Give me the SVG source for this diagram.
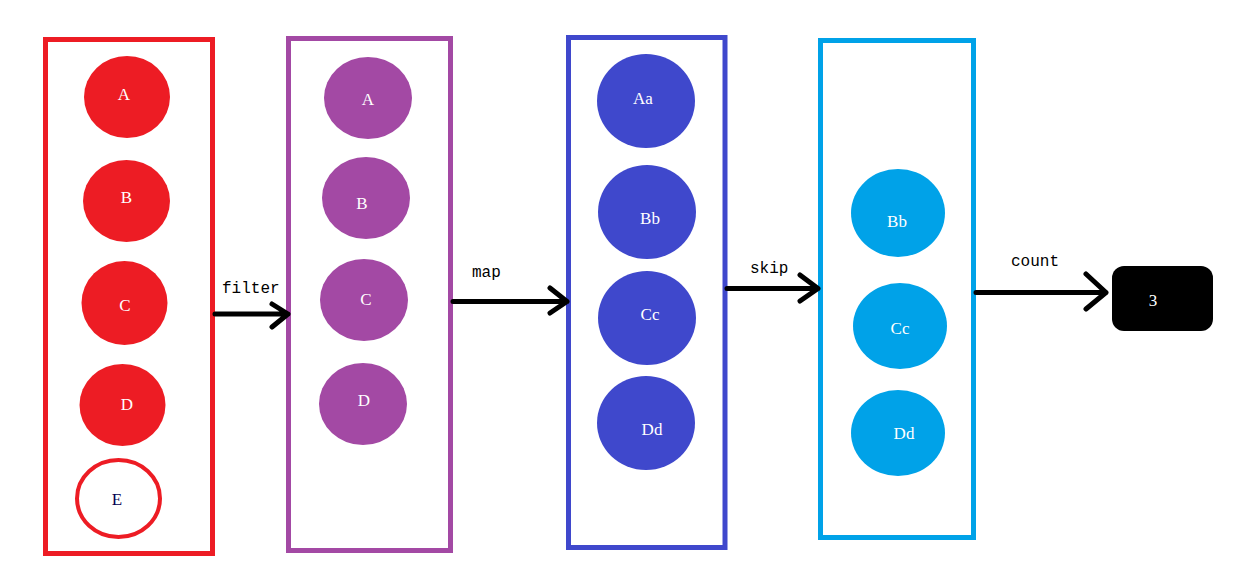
<svg xmlns="http://www.w3.org/2000/svg" width="1259" height="572" viewBox="0 0 1259 572">
<style>
.box{fill:none;stroke-width:5}
.lbl{font-family:"Liberation Serif",serif;font-size:17px;fill:#fff;text-anchor:middle}
.op{font-family:"Liberation Mono",monospace;font-size:16px;fill:#000}
.arr{fill:none;stroke:#000;stroke-width:5;stroke-linecap:round;stroke-linejoin:round}
.r{fill:#ED1C24}.p{fill:#A349A4}.b{fill:#3F48CC}.c{fill:#00A2E8}
</style>
<rect width="1259" height="572" fill="#fff"/>
<g id="stage-source">
<rect class="box" x="45.5" y="39.5" width="167" height="514" stroke="#ED1C24"/>
<g id="src-A"><ellipse class="r" cx="127" cy="97" rx="43" ry="41"/><text class="lbl" x="124" y="100">A</text></g>
<g id="src-B"><ellipse class="r" cx="126.5" cy="201" rx="43.5" ry="41"/><text class="lbl" x="126.5" y="203">B</text></g>
<g id="src-C"><ellipse class="r" cx="124.5" cy="303" rx="43" ry="42"/><text class="lbl" x="125" y="311">C</text></g>
<g id="src-D"><ellipse class="r" cx="122.5" cy="405" rx="43" ry="41"/><text class="lbl" x="127" y="410">D</text></g>
<g id="src-E"><ellipse cx="118.5" cy="498.5" rx="41.5" ry="38.5" fill="#fff" stroke="#ED1C24" stroke-width="4"/><text class="lbl" x="117" y="505" fill="#000050" style="fill:#000050">E</text></g>
</g>
<g id="stage-filter">
<rect class="box" x="288.5" y="38.5" width="162" height="512" stroke="#A349A4"/>
<g id="flt-A"><ellipse class="p" cx="368" cy="98" rx="44" ry="41"/><text class="lbl" x="368" y="105">A</text></g>
<g id="flt-B"><ellipse class="p" cx="366" cy="198" rx="44" ry="41"/><text class="lbl" x="362" y="209">B</text></g>
<g id="flt-C"><ellipse class="p" cx="364" cy="300" rx="44" ry="41"/><text class="lbl" x="366" y="305">C</text></g>
<g id="flt-D"><ellipse class="p" cx="363" cy="404" rx="44" ry="41"/><text class="lbl" x="364" y="406">D</text></g>
</g>
<g id="stage-map">
<rect class="box" x="568.5" y="37.5" width="156.5" height="510" stroke="#3F48CC"/>
<g id="map-Aa"><ellipse class="b" cx="646" cy="101" rx="49" ry="47"/><text class="lbl" x="643" y="104">Aa</text></g>
<g id="map-Bb"><ellipse class="b" cx="647" cy="212" rx="49" ry="47"/><text class="lbl" x="650" y="224">Bb</text></g>
<g id="map-Cc"><ellipse class="b" cx="647" cy="318" rx="49" ry="47"/><text class="lbl" x="650" y="320">Cc</text></g>
<g id="map-Dd"><ellipse class="b" cx="646" cy="423" rx="49" ry="47"/><text class="lbl" x="652" y="435">Dd</text></g>
</g>
<g id="stage-skip">
<rect class="box" x="820.5" y="40.5" width="153" height="497" stroke="#00A2E8"/>
<g id="skp-Bb"><ellipse class="c" cx="898" cy="213" rx="47" ry="44"/><text class="lbl" x="897" y="227">Bb</text></g>
<g id="skp-Cc"><ellipse class="c" cx="900" cy="326" rx="47" ry="43"/><text class="lbl" x="900" y="334">Cc</text></g>
<g id="skp-Dd"><ellipse class="c" cx="898" cy="433" rx="47" ry="43"/><text class="lbl" x="904" y="439">Dd</text></g>
</g>
<g id="result">
<rect x="1112" y="266" width="101" height="65" rx="12" fill="#000"/>
<text class="lbl" x="1153" y="306">3</text>
</g>
<g id="connectors">
<path class="arr" d="M215 314H288M272 304L288 314L272 327"/>
<text class="op" x="222" y="293">filter</text>
<path class="arr" d="M453 301.5H567M550 288L567 301.5L550 313"/>
<text class="op" x="472" y="277">map</text>
<path class="arr" d="M727 288.5H818M800 275L818 288.5L800 301"/>
<text class="op" x="750" y="273">skip</text>
<path class="arr" d="M976 292.5H1106M1086 274L1106 292.5L1086 309"/>
<text class="op" x="1011" y="266">count</text>
</g>
</svg>
